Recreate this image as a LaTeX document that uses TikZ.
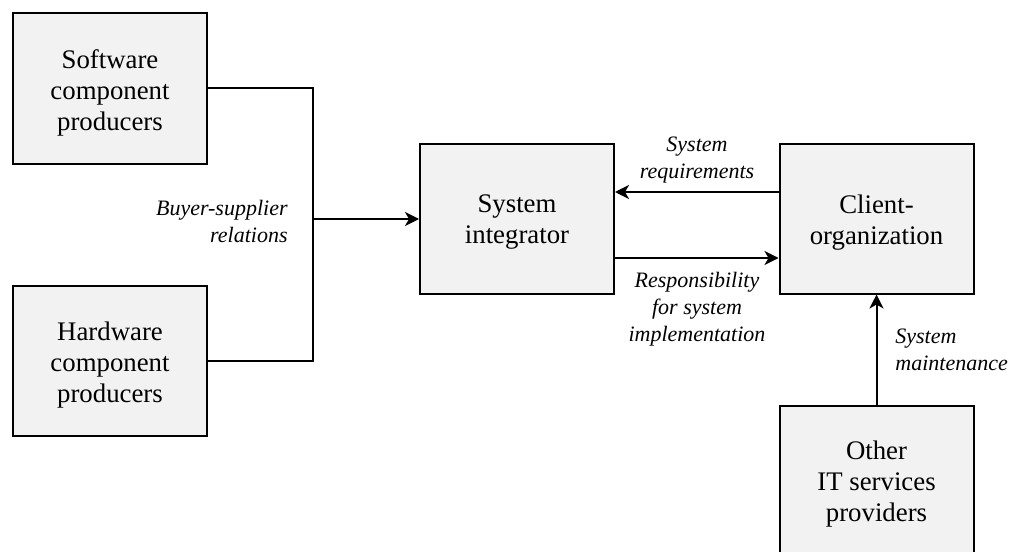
\documentclass[tikz,border=0pt]{standalone}
\usepackage{fontspec}
\setmainfont{Liberation Serif}
\usetikzlibrary{arrows.meta}
\begin{document}
\begin{tikzpicture}[x=0.5pt,y=-0.5pt,
  box/.style={draw=black,fill=black!5,line width=1pt,inner sep=0pt,
    minimum width=97pt,minimum height=75pt},
  txt/.style={inner sep=0pt,align=center,yshift=-2pt,
    font=\fontsize{13.4pt}{15.5pt}\selectfont},
  lbl/.style={inner sep=0pt,font=\fontsize{11pt}{13.5pt}\selectfont\itshape},
  conn/.style={line width=1pt},
  arr/.style={line width=1pt,-{Stealth[length=7pt,width=7pt,inset=2pt]}}]
\useasboundingbox (0,0) rectangle (1011,551);
\clip (0,0) rectangle (1011,551);
\node[box] (sw) at (110,88.5) {};
\node[box] (hw) at (110,361) {};
\node[box] (si) at (517,218.5) {};
\node[box] (co) at (876.5,218.5) {};
\node[box] (ot) at (876.5,480.5) {};
\node[txt] (swt) at (sw) {Software\\component\\producers};
\node[txt] (hwt) at (hw) {Hardware\\component\\producers};
\node[txt] (sit) at (si) {System\\integrator};
\node[txt] (cot) at (co) {Client-\\organization};
\node[txt] (ott) at (ot) {Other\\IT services\\providers};
\coordinate (j) at (313,219);
\coordinate (r1) at (700,192);
\coordinate (r2) at (700,258);
\draw[conn] (sw.east) -- (sw.east -| j) -- (hw.east -| j) -- (hw.east);
\draw[arr] (j) -- (j -| si.west);
\draw[arr] (co.west |- r1) -- (si.east |- r1);
\draw[arr] (si.east |- r2) -- (co.west |- r2);
\draw[arr] (ot.north) -- (co.south);
\node[lbl,anchor=east,align=right] (l1) at (288,221) {Buyer-supplier\\relations};
\node[lbl,align=center] (l2) at (697,160) {System\\requirements};
\node[lbl,align=center] (l3) at (697,309) {Responsibility\\for system\\implementation};
\node[lbl,anchor=west,align=left] (l4) at (895,350) {System\\maintenance};
\end{tikzpicture}
\end{document}
